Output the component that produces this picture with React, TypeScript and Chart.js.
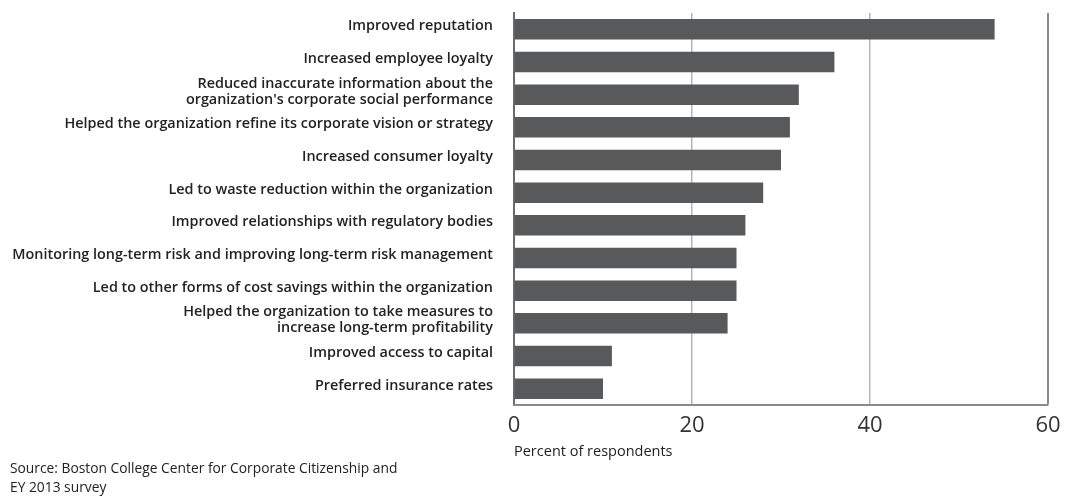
import React, { useEffect, useRef } from "react";
import { Chart, registerables } from "chart.js";

Chart.register(...registerables);

const categories: (string | string[])[] = [
  "Improved reputation",
  "Increased employee loyalty",
  ["Reduced inaccurate information about the", "organization's corporate social performance"],
  "Helped the organization refine its corporate vision or strategy",
  "Increased consumer loyalty",
  "Led to waste reduction within the organization",
  "Improved relationships with regulatory bodies",
  "Monitoring long-term risk and improving long-term risk management",
  "Led to other forms of cost savings within the organization",
  ["Helped the organization to take measures to", "increase long-term profitability"],
  "Improved access to capital",
  "Preferred insurance rates",
];

const percentValues: number[] = [54, 36, 32, 31, 30, 28, 26, 25, 25, 24, 11, 10];

const xTickValues: number[] = [0, 20, 40, 60];

const axisTitle = "Percent of respondents";
const sourceLines: string[] = [
  "Source: Boston College Center for Corporate Citizenship and",
  "EY 2013 survey",
];

const FONT = "'Open Sans', 'DejaVu Sans', sans-serif";

export default function App() {
  const canvasRef = useRef<HTMLCanvasElement | null>(null);

  useEffect(() => {
    if (!canvasRef.current) return;
    const chart = new Chart(canvasRef.current, {
      type: "bar",
      data: {
        labels: categories,
        datasets: [
          {
            data: percentValues,
            backgroundColor: "#58595b",
            borderWidth: 0,
            barPercentage: 0.63,
            categoryPercentage: 1,
          },
        ],
      },
      options: {
        indexAxis: "y",
        responsive: false,
        animation: false,
        layout: { padding: { top: 13, right: 23, bottom: 37, left: 0 } },
        plugins: {
          legend: { display: false },
          tooltip: { enabled: false },
          title: { display: false },
        },
        scales: {
          y: {
            grid: { display: false, drawTicks: false },
            border: { display: true, color: "#6a6a6a", width: 2 },
            ticks: {
              autoSkip: false,
              padding: 21,
              labelOffset: -3,
              color: "#222",
              font: { family: FONT, size: 14.4, weight: "600", lineHeight: 1.12 },
            },
            afterFit: (scale: any) => {
              scale.width = 514;
              scale.paddingTop = 0;
              scale.paddingBottom = 0;
            },
          },
          x: {
            min: 0,
            max: 60,
            afterBuildTicks: (scale: any) => {
              scale.ticks = xTickValues.map((v) => ({ value: v }));
            },
            grid: {
              drawTicks: false,
              color: (ctx: any) =>
                ctx.tick && ctx.tick.value === 60
                  ? "#8a8a8a"
                  : ctx.tick && ctx.tick.value === 0
                  ? "rgba(0,0,0,0)"
                  : "#b5b5b5",
              lineWidth: (ctx: any) => (ctx.tick && ctx.tick.value === 60 ? 2 : 1.5),
            },
            border: { display: true, color: "#8a8a8a", width: 2 },
            ticks: {
              autoSkip: false,
              maxRotation: 0,
              padding: 8,
              color: "#333",
              font: { family: FONT, size: 22 },
            },
            title: {
              display: true,
              text: axisTitle,
              align: "start",
              color: "#222",
              font: { family: FONT, size: 14.5 },
              padding: { top: 6, bottom: 0 },
            },
            afterFit: (scale: any) => {
              scale.height = 56;
              scale.paddingLeft = 0;
              scale.paddingRight = 0;
            },
          },
        },
      },
    } as any);
    return () => chart.destroy();
  }, []);

  return (
    <div style={{ position: "fixed", left: 0, top: 0, width: 1071, height: 498, background: "#fff" }}>
      <canvas ref={canvasRef} width={1071} height={498} style={{ display: "block" }} />
      <div
        style={{
          position: "absolute",
          left: 10,
          top: 458,
          fontFamily: FONT,
          fontSize: 13.8,
          lineHeight: "19px",
          color: "#222",
        }}
      >
        {sourceLines.map((l, i) => (
          <div key={i}>{l}</div>
        ))}
      </div>
    </div>
  );
}
